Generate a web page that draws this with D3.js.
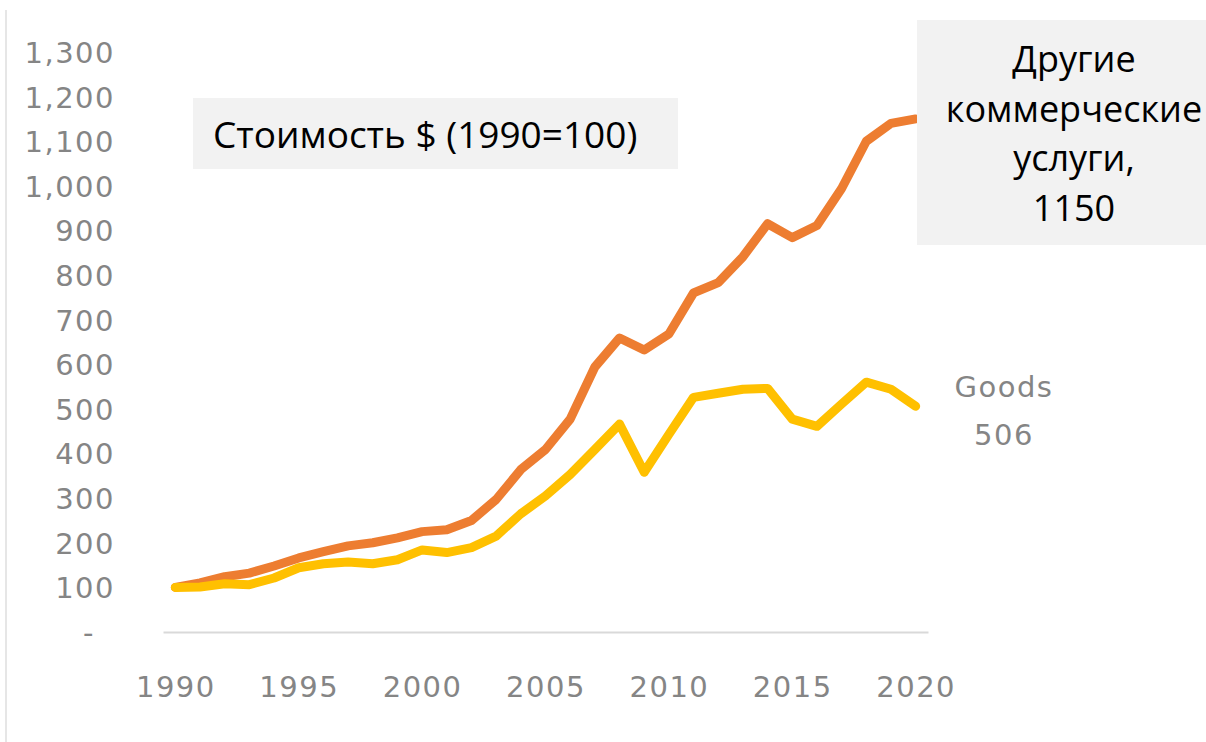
<!DOCTYPE html>
<html>
<head>
<meta charset="utf-8">
<script src="https://cdn.jsdelivr.net/npm/d3@7"></script>
<style>
  body { margin: 0; background: #fff; }
  svg { display: block; }
</style>
</head>
<body>
<script>
// years on the x axis
var years = d3.range(1990, 2021);
var xTickYears = [1990, 1995, 2000, 2005, 2010, 2015, 2020];
var yTickValues = [0, 100, 200, 300, 400, 500, 600, 700, 800, 900, 1000, 1100, 1200, 1300];

// index, 1990 = 100
var otherServices = [100, 110, 124, 132, 148, 166, 180, 193, 200, 211, 225, 229, 250, 297, 364,
                     409, 477, 594, 659, 632, 668, 760, 783, 841, 915, 884, 911, 994, 1100, 1140, 1150];
var goods = [100, 101, 108, 106, 121, 144, 153, 157, 153, 162, 184, 178, 189, 215, 265,
             305, 353, 409, 466, 358, 443, 526, 535, 544, 546, 477, 461, 511, 560, 544, 506];

var titleText = "Стоимость $ (1990=100)";
var servicesLabel = ["Другие", "коммерческие", "услуги,", "1150"];
var goodsLabel = ["Goods", "506"];

var width = 1206, height = 742;
var axisFont = "'DejaVu Sans', sans-serif";
var boxFont = "'Open Sans', 'Noto Sans', sans-serif";

var svg = d3.select("body")
            .append("svg")
            .attr("width", width)
            .attr("height", height);

svg.append("rect")
   .attr("width", width)
   .attr("height", height)
   .attr("fill", "#fff");

// faint frame line on the left
svg.append("line")
   .attr("x1", 6).attr("x2", 6)
   .attr("y1", 10).attr("y2", height)
   .attr("stroke", "#e6e6e6")
   .attr("stroke-width", 2);

var x = d3.scalePoint()
          .domain(years)
          .range([163, 928])
          .padding(0.5);

var y = d3.scaleLinear()
          .domain([0, 1300])
          .range([632, 52]);

// y axis labels (no line)
var yAxis = d3.axisLeft(y)
              .tickValues(yTickValues)
              .tickSize(0)
              .tickPadding(0)
              .tickFormat(function(d) { return d === 0 ? "-" : d3.format(",")(d); });

var gy = svg.append("g")
            .attr("transform", "translate(115,0)")
            .call(yAxis);
gy.select(".domain").remove();
gy.selectAll("text")
  .attr("font-family", axisFont)
  .attr("font-size", 29)
  .attr("letter-spacing", "1.5px")
  .attr("fill", "#858585")
  .attr("dy", "0.36em");
gy.selectAll("text").filter(function(d) { return d === 0; })
  .attr("dx", -20);

// x axis
var xAxis = d3.axisBottom(x)
              .tickValues(xTickYears)
              .tickSize(0)
              .tickPadding(0);

var gx = svg.append("g")
            .attr("transform", "translate(0,632)")
            .call(xAxis);
gx.select(".domain")
  .attr("stroke", "#d9d9d9")
  .attr("stroke-width", 2);
gx.selectAll("text")
  .attr("font-family", axisFont)
  .attr("font-size", 29)
  .attr("letter-spacing", "1.5px")
  .attr("fill", "#858585")
  .attr("y", 65)
  .attr("dy", 0);

// lines
var line = d3.line()
             .x(function(d, i) { return x(years[i]); })
             .y(function(d) { return y(d); });

svg.append("path")
   .datum(otherServices)
   .attr("d", line)
   .attr("fill", "none")
   .attr("stroke", "#ED7D31")
   .attr("stroke-width", 9)
   .attr("stroke-linejoin", "round")
   .attr("stroke-linecap", "round");

svg.append("path")
   .datum(goods)
   .attr("d", line)
   .attr("fill", "none")
   .attr("stroke", "#FFC000")
   .attr("stroke-width", 9)
   .attr("stroke-linejoin", "round")
   .attr("stroke-linecap", "round");

// title box
svg.append("rect")
   .attr("x", 193).attr("y", 98)
   .attr("width", 485).attr("height", 71)
   .attr("fill", "#f2f2f2");
svg.append("text")
   .attr("x", 213).attr("y", 148)
   .attr("font-family", boxFont)
   .attr("font-size", 37)
   .attr("fill", "#000")
   .text(titleText);

// services label box
svg.append("rect")
   .attr("x", 917).attr("y", 20)
   .attr("width", 300).attr("height", 225)
   .attr("fill", "#f2f2f2");
svg.selectAll(".svc")
   .data(servicesLabel)
   .enter()
   .append("text")
   .attr("class", "svc")
   .attr("x", 1074)
   .attr("y", function(d, i) { return 72 + i * 49.6; })
   .attr("text-anchor", "middle")
   .attr("font-family", boxFont)
   .attr("font-size", 36)
   .attr("fill", "#000")
   .text(function(d) { return d; });

// goods label
svg.selectAll(".gd")
   .data(goodsLabel)
   .enter()
   .append("text")
   .attr("class", "gd")
   .attr("x", 1004)
   .attr("y", function(d, i) { return 397 + i * 48; })
   .attr("text-anchor", "middle")
   .attr("font-family", axisFont)
   .attr("font-size", 29)
   .attr("letter-spacing", "1.5px")
   .attr("fill", "#858585")
   .text(function(d) { return d; });
</script>
</body>
</html>
